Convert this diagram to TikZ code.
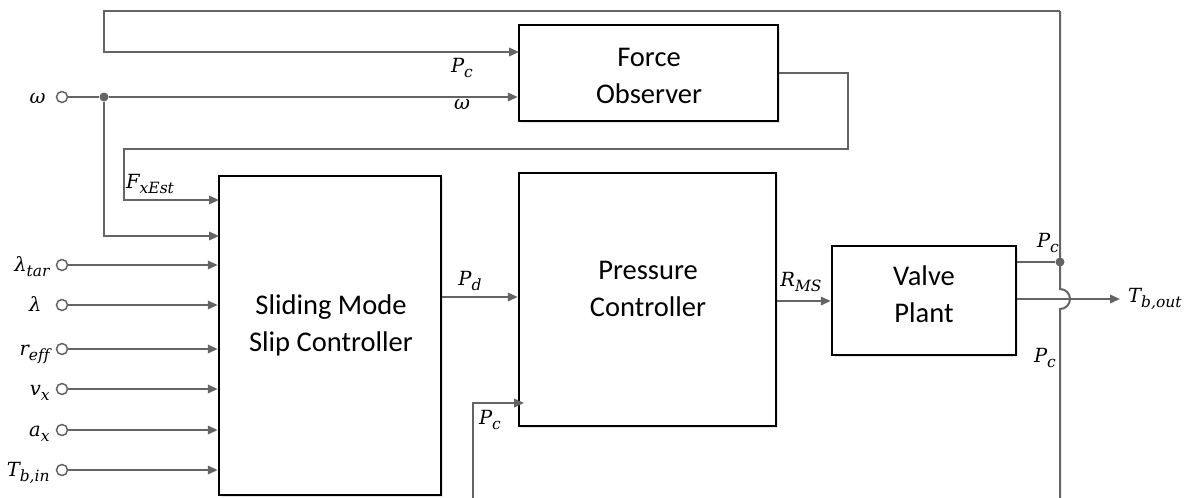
\documentclass[tikz,border=0pt]{standalone}
\usepackage{fontspec}
\setmainfont{Carlito}
\newfontfamily\lbfont[Ligatures={NoCommon}]{DejaVu Serif}
\usetikzlibrary{arrows.meta,shadows}
\definecolor{lg}{RGB}{100,100,100}
\newcommand\sg[2]{{\itshape #1}\raisebox{-5pt}{\fontsize{15.5}{15.5}\selectfont\itshape #2}}
\tikzset{
 sig/.style={draw=lg, line width=2pt, -{Triangle[length=10pt,width=8.5pt]}},
 wire/.style={draw=lg, line width=2pt},
 blk/.style={draw=black, line width=2.5pt, fill=white, inner sep=0pt,
   drop shadow={opacity=0.2, shadow xshift=1.5pt, shadow yshift=-1.5pt}},
 port/.style={circle, draw=lg, line width=1.5pt, fill=white, minimum size=11pt, inner sep=0pt},
 jdot/.style={circle, fill=lg, minimum size=9pt, inner sep=0pt},
 lbl/.style={font=\lbfont\fontsize{19.5}{21}\selectfont\itshape, inner sep=0pt},
 txt/.style={font=\fontsize{28.5}{37}\selectfont, align=center, inner sep=0pt},
}
\begin{document}
\begin{tikzpicture}[x=1pt,y=-1pt]
\useasboundingbox (0,0) rectangle (1192,498);
\clip (0,0) rectangle (1192,498);

% blocks
\node[blk, minimum width=259pt, minimum height=96pt] (fo) at (648.5,73) {};
\node[txt] (fot) at (649,76) {Force\\Observer};
\node[blk, minimum width=222pt, minimum height=319pt] (smc) at (330,335.5) {};
\node[txt] (smct) at (331,325) {Sliding Mode\\Slip Controller};
\node[blk, minimum width=257pt, minimum height=253pt] (pc) at (647.5,299.5) {};
\node[txt] (pct) at (648,289) {Pressure\\Controller};
\node[blk, minimum width=184pt, minimum height=109pt] (vp) at (924,300.5) {};
\node[txt] (vpt) at (924,294) {Valve\\Plant};

% input ports
\node[port] (pw) at (62,97) {};
\node[port] (p1) at (62,265) {};
\node[port] (p2) at (62,305) {};
\node[port] (p3) at (62,349) {};
\node[port] (p4) at (62,389) {};
\node[port] (p5) at (62,430) {};
\node[port] (p6) at (62,470) {};
\node[lbl, anchor=base east] (lw) at ([xshift=-10pt,yshift=-6pt]pw.west) {ω};
\node[lbl, anchor=base east] (l1) at ([xshift=-6pt,yshift=-6pt]p1.west) {\sg{λ}{tar}};
\node[lbl, anchor=base east] (l2) at ([xshift=-14pt,yshift=-6pt]p2.west) {λ};
\node[lbl, anchor=base east] (l3) at ([xshift=-6pt,yshift=-6pt]p3.west) {\sg{r}{ef\kern0pt f}};
\node[lbl, anchor=base east] (l4) at ([xshift=-6pt,yshift=-6pt]p4.west) {\sg{v}{x}};
\node[lbl, anchor=base east] (l5) at ([xshift=-6pt,yshift=-6pt]p5.west) {\sg{a}{x}};
\node[lbl, anchor=base east] (l6) at ([xshift=-6pt,yshift=-6pt]p6.west) {\sg{T}{b,in}};

% junctions and corners
\node[jdot] (jw) at (104,97) {};
\node[jdot] (jv) at (1060,262) {};
\coordinate (tl) at (104,11);
\coordinate (tr) at (1060,11);
\coordinate (fo1) at (519,52);
\coordinate (fb1) at (848,73);
\coordinate (fb2) at (124,149);
\coordinate (s1) at (219,200);
\coordinate (s2) at (219,236);
\coordinate (jt) at (1060,289);
\coordinate (bot) at (1060,510);
\coordinate (pcb) at (473,510);
\coordinate (pcin) at (524,403);
\coordinate (tbo) at (1120,299);

% connectors
\draw[sig] (tr) -- (tl) |- (fo1);
\draw[wire] (pw) -- (jw);
\draw[sig] (jw) -- (jw -| fo.west);
\draw[sig] (jw) |- (s2);
\draw[sig] (fo.east |- fb1) -- (fb1) |- (fb2) |- (s1);
\draw[sig] (p1) -- (p1 -| smc.west);
\draw[sig] (p2) -- (p2 -| smc.west);
\draw[sig] (p3) -- (p3 -| smc.west);
\draw[sig] (p4) -- (p4 -| smc.west);
\draw[sig] (p5) -- (p5 -| smc.west);
\draw[sig] (p6) -- (p6 -| smc.west);
\draw[sig] (smc.east |- 0,297) -- (pc.west |- 0,297);
\draw[sig] (pc.east |- 0,301) -- (vp.west |- 0,301);
\draw[sig] (pcb) |- (pcin);
\draw[wire] (vp.east |- jv) -- (jv);
\draw[sig] (vp.east |- tbo) -- (tbo);
\draw[wire] (tr) -- (jt) arc[start angle=-90, end angle=90, radius=10] -- (bot);

% labels
\node[lbl] (lpc1) at (462,68) {\sg{P}{c}};
\node[lbl] (lom) at (462,104) {ω};
\node[lbl, anchor=west] (lfx) at (126,184) {\sg{F}{xEst}};
\node[lbl] (lpd) at (470,281) {\sg{P}{d}};
\node[lbl] (lrms) at (801,282) {\sg{R}{MS}};
\node[lbl] (lpc2) at (490,420) {\sg{P}{c}};
\node[lbl] (lpc3) at (1048,243) {\sg{P}{c}};
\node[lbl] (lpc4) at (1045,358) {\sg{P}{c}};
\node[lbl, anchor=west] (ltb) at ([xshift=8pt]tbo) {\sg{T}{b,out}};
\end{tikzpicture}
\end{document}
